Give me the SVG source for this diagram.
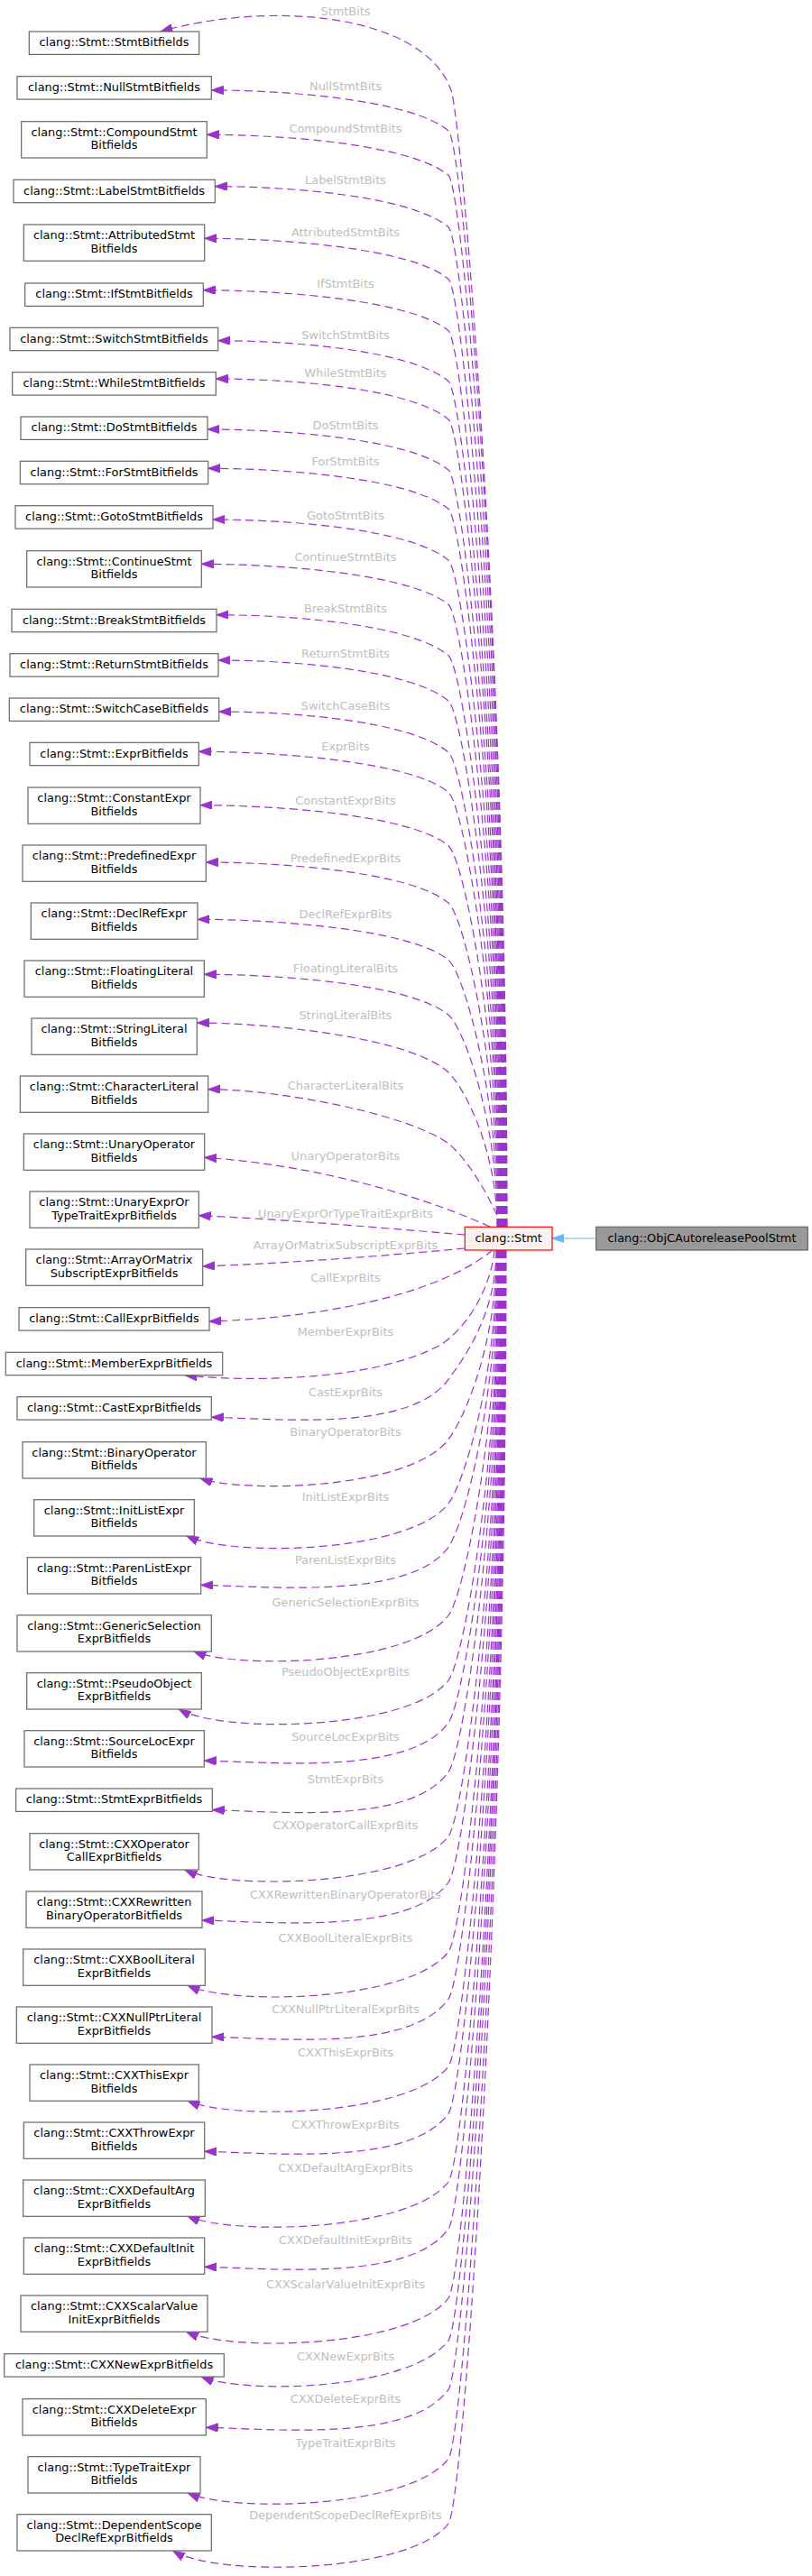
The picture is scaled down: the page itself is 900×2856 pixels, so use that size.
<svg xmlns="http://www.w3.org/2000/svg" width="900" height="2856" viewBox="0 0 900 2856">
<style>
.node rect{fill:#ffffff;stroke:#666666;stroke-width:1.2}
.t{font-family:"DejaVu Sans","Liberation Sans",sans-serif;font-size:12.9px;text-anchor:middle;fill:#000000}
.lbl{font-family:"DejaVu Sans","Liberation Sans",sans-serif;font-size:12.9px;text-anchor:middle;fill:#bebebe}
.e{fill:none;stroke:#9a32cd;stroke-width:1.2;stroke-dasharray:9,5}
</style>
<defs>
<marker id="ah" markerWidth="14" markerHeight="10" refX="13.3" refY="4.65" orient="auto" markerUnits="userSpaceOnUse"><path d="M0,0 L13.3,4.65 L0,9.3 z" fill="#9a32cd" stroke="#9a32cd" stroke-width="1" stroke-dasharray="none"/></marker>
<marker id="ahb" markerWidth="14" markerHeight="10" refX="13.3" refY="4.65" orient="auto" markerUnits="userSpaceOnUse"><path d="M0,0 L13.3,4.65 L0,9.3 z" fill="#63b8ff" stroke="#63b8ff" stroke-width="1"/></marker>
</defs>
<rect width="900" height="2856" fill="#ffffff"/>
<g id="edges">
<path class="e" marker-end="url(#ah)" d="M562,1360 C562,730 512,134 500,100 C470,15 300,0 178,35"/>
<path class="e" marker-end="url(#ah)" d="M561.5,1360 C561.5,752.5 514,159 497,145 C455,110 314.3,100 234.3,100"/>
<path class="e" marker-end="url(#ah)" d="M560.9,1360 C560.9,777.2 514,208.3 497,194.3 C455,159.3 309.3,149.3 229.3,149.3"/>
<path class="e" marker-end="url(#ah)" d="M560.4,1360 C560.4,805.9 514,265.7 497,251.7 C455,216.7 318.3,206.7 238.3,206.7"/>
<path class="e" marker-end="url(#ah)" d="M559.8,1360 C559.8,834.7 514,323.3 497,309.3 C455,274.3 306.7,264.3 226.7,264.3"/>
<path class="e" marker-end="url(#ah)" d="M559.3,1360 C559.3,863.4 514,380.7 497,366.7 C455,331.7 305.3,321.7 225.3,321.7"/>
<path class="e" marker-end="url(#ah)" d="M558.7,1360 C558.7,891.4 514,436.7 497,422.7 C455,387.7 321.7,377.7 241.7,377.7"/>
<path class="e" marker-end="url(#ah)" d="M558.2,1360 C558.2,912.5 514,479 497,465 C455,430 319.3,420 239.3,420"/>
<path class="e" marker-end="url(#ah)" d="M557.6,1360 C557.6,940.5 514,535 497,521 C455,486 310,476 230,476"/>
<path class="e" marker-end="url(#ah)" d="M557.1,1360 C557.1,962.2 514,578.3 497,564.3 C455,529.3 310.7,519.3 230.7,519.3"/>
<path class="e" marker-end="url(#ah)" d="M556.5,1360 C556.5,990.5 514,635 497,621 C455,586 316,576 236,576"/>
<path class="e" marker-end="url(#ah)" d="M556,1360 C556,1015.2 514,684.3 497,670.3 C455,635.3 303.3,625.3 223.3,625.3"/>
<path class="e" marker-end="url(#ah)" d="M555.4,1360 C555.4,1043.4 514,740.7 497,726.7 C455,691.7 320,681.7 240,681.7"/>
<path class="e" marker-end="url(#ah)" d="M554.9,1360 C554.9,1068.5 514,791 497,777 C455,742 322,732 242,732"/>
<path class="e" marker-end="url(#ah)" d="M554.3,1360 C554.3,1097 514,848 497,834 C455,799 322.7,789 242.7,789"/>
<path class="e" marker-end="url(#ah)" d="M553.8,1360 C553.8,1119.2 514,892.3 497,878.3 C455,843.3 300.3,833.3 220.3,833.3"/>
<path class="e" marker-end="url(#ah)" d="M553.2,1360 C553.2,1148.9 514,951.7 497,937.7 C455,902.7 302,892.7 222,892.7"/>
<path class="e" marker-end="url(#ah)" d="M552.7,1360 C552.7,1180.5 514,1015 497,1001 C455,966 308.3,956 228.3,956"/>
<path class="e" marker-end="url(#ah)" d="M552.1,1360 C552.1,1212.2 514,1078.3 497,1064.3 C455,1029.3 299,1019.3 219,1019.3"/>
<path class="e" marker-end="url(#ah)" d="M551.6,1360 C551.6,1242.7 514,1139.3 497,1125.3 C455,1090.3 306.3,1080.3 226.3,1080.3"/>
<path class="e" marker-end="url(#ah)" d="M551,1360 C551,1274 514,1205 497,1189 C455,1150 298.3,1134 218.3,1134"/>
<path class="e" marker-end="url(#ah)" d="M556,1360 C545,1330 518,1284 497,1268 C455,1236 310.7,1207.7 230.7,1207.7"/>
<path class="e" marker-end="url(#ah)" d="M543,1360 C450,1318 330,1290 226.7,1283.3"/>
<path class="e" marker-end="url(#ah)" d="M515,1369 C430,1362 320,1352 220.3,1347.7"/>
<path class="e" marker-end="url(#ah)" d="M515,1384 C430,1392 330,1400 224.7,1404"/>
<path class="e" marker-end="url(#ah)" d="M546,1386 C480,1440 340,1462 232,1465"/>
<path class="e" marker-end="url(#ah)" d="M548,1386 C545,1420 525,1465 490,1490 C420,1530 280,1533 205,1524.7"/>
<path class="e" marker-end="url(#ah)" d="M550,1386 C550,1457.7 514,1506.1 497,1529.3 C455,1587.3 314.3,1573.3 234.3,1571.3"/>
<path class="e" marker-end="url(#ah)" d="M550.5,1386 C550.5,1491 514,1574 497,1596 C455,1651 272,1656 222,1639"/>
<path class="e" marker-end="url(#ah)" d="M551,1386 C551,1526.5 514,1645 497,1667 C455,1722 256.7,1727 206.7,1702.7"/>
<path class="e" marker-end="url(#ah)" d="M551.6,1386 C551.6,1550.7 514,1692.1 497,1715.3 C455,1773.3 302.7,1759.3 222.7,1757.3"/>
<path class="e" marker-end="url(#ah)" d="M552.1,1386 C552.1,1588.5 514,1769 497,1791 C455,1846 265,1851 215,1831"/>
<path class="e" marker-end="url(#ah)" d="M552.7,1386 C552.7,1624.5 514,1841 497,1863 C455,1918 248.3,1923 198.3,1895"/>
<path class="e" marker-end="url(#ah)" d="M553.2,1386 C553.2,1648 514,1886.8 497,1910 C455,1968 306.3,1954 226.3,1952"/>
<path class="e" marker-end="url(#ah)" d="M553.8,1386 C553.8,1675.4 514,1941.5 497,1964.7 C455,2022.7 315.3,2008.7 235.3,2006.7"/>
<path class="e" marker-end="url(#ah)" d="M554.3,1386 C554.3,1711 514,2014 497,2036 C455,2091 255,2096 205,2073.3"/>
<path class="e" marker-end="url(#ah)" d="M554.9,1386 C554.9,1736.5 514,2063.8 497,2087 C455,2145 304,2131 224,2129"/>
<path class="e" marker-end="url(#ah)" d="M555.4,1386 C555.4,1775 514,2142 497,2164 C455,2219 258.3,2224 208.3,2201.3"/>
<path class="e" marker-end="url(#ah)" d="M556,1386 C556,1801.2 514,2193.1 497,2216.3 C455,2274.3 315,2260.3 235,2258.3"/>
<path class="e" marker-end="url(#ah)" d="M556.5,1386 C556.5,1838.5 514,2269 497,2291 C455,2346 258.3,2351 208.3,2329.3"/>
<path class="e" marker-end="url(#ah)" d="M557.1,1386 C557.1,1864.7 514,2320.1 497,2343.3 C455,2401.3 306.7,2387.3 226.7,2385.3"/>
<path class="e" marker-end="url(#ah)" d="M557.6,1386 C557.6,1902.5 514,2397 497,2419 C455,2474 258,2479 208,2457"/>
<path class="e" marker-end="url(#ah)" d="M558.2,1386 C558.2,1928.7 514,2448.1 497,2471.3 C455,2529.3 306.7,2515.3 226.7,2513.3"/>
<path class="e" marker-end="url(#ah)" d="M558.7,1386 C558.7,1967 514,2526 497,2548 C455,2603 256.7,2608 206.7,2585.3"/>
<path class="e" marker-end="url(#ah)" d="M559.3,1386 C559.3,1990.5 514,2573 497,2595 C455,2650 273.3,2655 223.3,2635.3"/>
<path class="e" marker-end="url(#ah)" d="M559.8,1386 C559.8,2017.7 514,2626.1 497,2649.3 C455,2707.3 308.3,2693.3 228.3,2691.3"/>
<path class="e" marker-end="url(#ah)" d="M560.4,1386 C560.4,2056 514,2704 497,2726 C455,2781 258.3,2786 208.3,2764"/>
<path class="e" marker-end="url(#ah)" d="M561,1386 C561,2092 514,2776 497,2798 C455,2853 241.7,2858 191.7,2828"/>
<path fill="none" stroke="#63b8ff" stroke-width="1.2" marker-end="url(#ahb)" d="M660.7,1373 L612,1373"/>
</g>
<g id="edge-labels">
<text class="lbl" x="383" y="17">StmtBits</text>
<text class="lbl" x="383" y="99.7">NullStmtBits</text>
<text class="lbl" x="383" y="147">CompoundStmtBits</text>
<text class="lbl" x="383" y="204.3">LabelStmtBits</text>
<text class="lbl" x="383" y="261.7">AttributedStmtBits</text>
<text class="lbl" x="383" y="319.3">IfStmtBits</text>
<text class="lbl" x="383" y="376.3">SwitchStmtBits</text>
<text class="lbl" x="383" y="418">WhileStmtBits</text>
<text class="lbl" x="383" y="475.6">DoStmtBits</text>
<text class="lbl" x="383" y="516.3">ForStmtBits</text>
<text class="lbl" x="383" y="575.7">GotoStmtBits</text>
<text class="lbl" x="383" y="621.7">ContinueStmtBits</text>
<text class="lbl" x="383" y="679.3">BreakStmtBits</text>
<text class="lbl" x="383" y="729.3">ReturnStmtBits</text>
<text class="lbl" x="383" y="787.3">SwitchCaseBits</text>
<text class="lbl" x="383" y="831.7">ExprBits</text>
<text class="lbl" x="383" y="891.7">ConstantExprBits</text>
<text class="lbl" x="383" y="955.7">PredefinedExprBits</text>
<text class="lbl" x="383" y="1017.7">DeclRefExprBits</text>
<text class="lbl" x="383" y="1077.7">FloatingLiteralBits</text>
<text class="lbl" x="383" y="1129.7">StringLiteralBits</text>
<text class="lbl" x="383" y="1207.7">CharacterLiteralBits</text>
<text class="lbl" x="383" y="1285.7">UnaryOperatorBits</text>
<text class="lbl" x="383" y="1349.7">UnaryExprOrTypeTraitExprBits</text>
<text class="lbl" x="383" y="1384.7">ArrayOrMatrixSubscriptExprBits</text>
<text class="lbl" x="383" y="1420.7">CallExprBits</text>
<text class="lbl" x="383" y="1480.7">MemberExprBits</text>
<text class="lbl" x="383" y="1547.7">CastExprBits</text>
<text class="lbl" x="383" y="1591.7">BinaryOperatorBits</text>
<text class="lbl" x="383" y="1663.7">InitListExprBits</text>
<text class="lbl" x="383" y="1733.7">ParenListExprBits</text>
<text class="lbl" x="383" y="1780.7">GenericSelectionExprBits</text>
<text class="lbl" x="383" y="1857.7">PseudoObjectExprBits</text>
<text class="lbl" x="383" y="1929.7">SourceLocExprBits</text>
<text class="lbl" x="383" y="1976.7">StmtExprBits</text>
<text class="lbl" x="383" y="2027.7">CXXOperatorCallExprBits</text>
<text class="lbl" x="383" y="2104.7">CXXRewrittenBinaryOperatorBits</text>
<text class="lbl" x="383" y="2152.7">CXXBoolLiteralExprBits</text>
<text class="lbl" x="383" y="2231.7">CXXNullPtrLiteralExprBits</text>
<text class="lbl" x="383" y="2279.7">CXXThisExprBits</text>
<text class="lbl" x="383" y="2359.7">CXXThrowExprBits</text>
<text class="lbl" x="383" y="2407.7">CXXDefaultArgExprBits</text>
<text class="lbl" x="383" y="2487.7">CXXDefaultInitExprBits</text>
<text class="lbl" x="383" y="2536.7">CXXScalarValueInitExprBits</text>
<text class="lbl" x="383" y="2616.7">CXXNewExprBits</text>
<text class="lbl" x="383" y="2663.7">CXXDeleteExprBits</text>
<text class="lbl" x="383" y="2712.7">TypeTraitExprBits</text>
<text class="lbl" x="383" y="2792.7">DependentScopeDeclRefExprBits</text>
</g>
<g id="n1" class="node"><rect x="32.3" y="35" width="188.4" height="25.4"/><text class="t" x="126.5" y="51.3">clang::Stmt::StmtBitfields</text></g>
<g id="n2" class="node"><rect x="19" y="84.7" width="215.3" height="25.4"/><text class="t" x="126.5" y="101">clang::Stmt::NullStmtBitfields</text></g>
<g id="n3" class="node"><rect x="23.7" y="134.7" width="205.6" height="40.3"/><text class="t" x="126.5" y="150.7">clang::Stmt::CompoundStmt<tspan x="126.5" y="165.2">Bitfields</tspan></text></g>
<g id="n4" class="node"><rect x="15" y="199.3" width="223.3" height="25.4"/><text class="t" x="126.5" y="215.6">clang::Stmt::LabelStmtBitfields</text></g>
<g id="n5" class="node"><rect x="26.3" y="249" width="200.4" height="40.3"/><text class="t" x="126.5" y="265">clang::Stmt::AttributedStmt<tspan x="126.5" y="279.5">Bitfields</tspan></text></g>
<g id="n6" class="node"><rect x="27.7" y="314" width="197.6" height="25.4"/><text class="t" x="126.5" y="330.3">clang::Stmt::IfStmtBitfields</text></g>
<g id="n7" class="node"><rect x="11" y="363.3" width="230.7" height="25.4"/><text class="t" x="126.5" y="379.6">clang::Stmt::SwitchStmtBitfields</text></g>
<g id="n8" class="node"><rect x="13.7" y="412.7" width="225.6" height="25.4"/><text class="t" x="126.5" y="429">clang::Stmt::WhileStmtBitfields</text></g>
<g id="n9" class="node"><rect x="23" y="462" width="207" height="25.4"/><text class="t" x="126.5" y="478.3">clang::Stmt::DoStmtBitfields</text></g>
<g id="n10" class="node"><rect x="22.3" y="511.3" width="208.4" height="25.4"/><text class="t" x="126.5" y="527.6">clang::Stmt::ForStmtBitfields</text></g>
<g id="n11" class="node"><rect x="17" y="560.7" width="219" height="25.4"/><text class="t" x="126.5" y="577">clang::Stmt::GotoStmtBitfields</text></g>
<g id="n12" class="node"><rect x="29.7" y="610.7" width="193.6" height="40.3"/><text class="t" x="126.5" y="626.7">clang::Stmt::ContinueStmt<tspan x="126.5" y="641.2">Bitfields</tspan></text></g>
<g id="n13" class="node"><rect x="13" y="675.3" width="227" height="25.4"/><text class="t" x="126.5" y="691.6">clang::Stmt::BreakStmtBitfields</text></g>
<g id="n14" class="node"><rect x="11" y="724.7" width="231" height="25.4"/><text class="t" x="126.5" y="741">clang::Stmt::ReturnStmtBitfields</text></g>
<g id="n15" class="node"><rect x="10.3" y="774" width="232.4" height="25.4"/><text class="t" x="126.5" y="790.3">clang::Stmt::SwitchCaseBitfields</text></g>
<g id="n16" class="node"><rect x="33" y="823.3" width="187.3" height="25.4"/><text class="t" x="126.5" y="839.6">clang::Stmt::ExprBitfields</text></g>
<g id="n17" class="node"><rect x="31" y="873" width="191" height="40.3"/><text class="t" x="126.5" y="889">clang::Stmt::ConstantExpr<tspan x="126.5" y="903.5">Bitfields</tspan></text></g>
<g id="n18" class="node"><rect x="25" y="937" width="203.3" height="40.3"/><text class="t" x="126.5" y="953">clang::Stmt::PredefinedExpr<tspan x="126.5" y="967.5">Bitfields</tspan></text></g>
<g id="n19" class="node"><rect x="34.3" y="1001" width="184.7" height="40.3"/><text class="t" x="126.5" y="1017">clang::Stmt::DeclRefExpr<tspan x="126.5" y="1031.5">Bitfields</tspan></text></g>
<g id="n20" class="node"><rect x="27" y="1065" width="199.3" height="40.3"/><text class="t" x="126.5" y="1081">clang::Stmt::FloatingLiteral<tspan x="126.5" y="1095.5">Bitfields</tspan></text></g>
<g id="n21" class="node"><rect x="35" y="1129" width="183.3" height="40.3"/><text class="t" x="126.5" y="1145">clang::Stmt::StringLiteral<tspan x="126.5" y="1159.5">Bitfields</tspan></text></g>
<g id="n22" class="node"><rect x="22.3" y="1193" width="208.4" height="40.3"/><text class="t" x="126.5" y="1209">clang::Stmt::CharacterLiteral<tspan x="126.5" y="1223.5">Bitfields</tspan></text></g>
<g id="n23" class="node"><rect x="26.3" y="1257" width="200.4" height="40.3"/><text class="t" x="126.5" y="1273">clang::Stmt::UnaryOperator<tspan x="126.5" y="1287.5">Bitfields</tspan></text></g>
<g id="n24" class="node"><rect x="33" y="1321" width="187.3" height="40.3"/><text class="t" x="126.5" y="1337">clang::Stmt::UnaryExprOr<tspan x="126.5" y="1351.5">TypeTraitExprBitfields</tspan></text></g>
<g id="n25" class="node"><rect x="28.7" y="1385" width="196" height="40.3"/><text class="t" x="126.5" y="1401">clang::Stmt::ArrayOrMatrix<tspan x="126.5" y="1415.5">SubscriptExprBitfields</tspan></text></g>
<g id="n26" class="node"><rect x="21" y="1449.7" width="211" height="25.4"/><text class="t" x="126.5" y="1466">clang::Stmt::CallExprBitfields</text></g>
<g id="n27" class="node"><rect x="6.3" y="1499.3" width="240.4" height="25.4"/><text class="t" x="126.5" y="1515.6">clang::Stmt::MemberExprBitfields</text></g>
<g id="n28" class="node"><rect x="19" y="1548.7" width="215.3" height="25.4"/><text class="t" x="126.5" y="1565">clang::Stmt::CastExprBitfields</text></g>
<g id="n29" class="node"><rect x="25" y="1598.7" width="203.3" height="40.3"/><text class="t" x="126.5" y="1614.7">clang::Stmt::BinaryOperator<tspan x="126.5" y="1629.2">Bitfields</tspan></text></g>
<g id="n30" class="node"><rect x="37.7" y="1662.7" width="177.6" height="40.3"/><text class="t" x="126.5" y="1678.7">clang::Stmt::InitListExpr<tspan x="126.5" y="1693.2">Bitfields</tspan></text></g>
<g id="n31" class="node"><rect x="30.3" y="1726.7" width="192.4" height="40.3"/><text class="t" x="126.5" y="1742.7">clang::Stmt::ParenListExpr<tspan x="126.5" y="1757.2">Bitfields</tspan></text></g>
<g id="n32" class="node"><rect x="19" y="1790.7" width="215.3" height="40.3"/><text class="t" x="126.5" y="1806.7">clang::Stmt::GenericSelection<tspan x="126.5" y="1821.2">ExprBitfields</tspan></text></g>
<g id="n33" class="node"><rect x="29.7" y="1854.7" width="193.6" height="40.3"/><text class="t" x="126.5" y="1870.7">clang::Stmt::PseudoObject<tspan x="126.5" y="1885.2">ExprBitfields</tspan></text></g>
<g id="n34" class="node"><rect x="27" y="1918.7" width="199.3" height="40.3"/><text class="t" x="126.5" y="1934.7">clang::Stmt::SourceLocExpr<tspan x="126.5" y="1949.2">Bitfields</tspan></text></g>
<g id="n35" class="node"><rect x="17.7" y="1983" width="217.6" height="25.4"/><text class="t" x="126.5" y="1999.3">clang::Stmt::StmtExprBitfields</text></g>
<g id="n36" class="node"><rect x="33" y="2032.7" width="187.3" height="40.3"/><text class="t" x="126.5" y="2048.7">clang::Stmt::CXXOperator<tspan x="126.5" y="2063.2">CallExprBitfields</tspan></text></g>
<g id="n37" class="node"><rect x="29" y="2097" width="195" height="40.3"/><text class="t" x="126.5" y="2113">clang::Stmt::CXXRewritten<tspan x="126.5" y="2127.5">BinaryOperatorBitfields</tspan></text></g>
<g id="n38" class="node"><rect x="25.7" y="2161" width="201.6" height="40.3"/><text class="t" x="126.5" y="2177">clang::Stmt::CXXBoolLiteral<tspan x="126.5" y="2191.5">ExprBitfields</tspan></text></g>
<g id="n39" class="node"><rect x="18.3" y="2225" width="216.7" height="40.3"/><text class="t" x="126.5" y="2241">clang::Stmt::CXXNullPtrLiteral<tspan x="126.5" y="2255.5">ExprBitfields</tspan></text></g>
<g id="n40" class="node"><rect x="33" y="2289" width="187.3" height="40.3"/><text class="t" x="126.5" y="2305">clang::Stmt::CXXThisExpr<tspan x="126.5" y="2319.5">Bitfields</tspan></text></g>
<g id="n41" class="node"><rect x="26.3" y="2353" width="200.4" height="40.3"/><text class="t" x="126.5" y="2369">clang::Stmt::CXXThrowExpr<tspan x="126.5" y="2383.5">Bitfields</tspan></text></g>
<g id="n42" class="node"><rect x="25.7" y="2417" width="201.6" height="40.3"/><text class="t" x="126.5" y="2433">clang::Stmt::CXXDefaultArg<tspan x="126.5" y="2447.5">ExprBitfields</tspan></text></g>
<g id="n43" class="node"><rect x="26.3" y="2481" width="200.4" height="40.3"/><text class="t" x="126.5" y="2497">clang::Stmt::CXXDefaultInit<tspan x="126.5" y="2511.5">ExprBitfields</tspan></text></g>
<g id="n44" class="node"><rect x="23" y="2545" width="207" height="40.3"/><text class="t" x="126.5" y="2561">clang::Stmt::CXXScalarValue<tspan x="126.5" y="2575.5">InitExprBitfields</tspan></text></g>
<g id="n45" class="node"><rect x="4.7" y="2609.7" width="243.6" height="25.4"/><text class="t" x="126.5" y="2626">clang::Stmt::CXXNewExprBitfields</text></g>
<g id="n46" class="node"><rect x="25" y="2659.7" width="203.3" height="40.3"/><text class="t" x="126.5" y="2675.7">clang::Stmt::CXXDeleteExpr<tspan x="126.5" y="2690.2">Bitfields</tspan></text></g>
<g id="n47" class="node"><rect x="31" y="2723.7" width="191" height="40.3"/><text class="t" x="126.5" y="2739.7">clang::Stmt::TypeTraitExpr<tspan x="126.5" y="2754.2">Bitfields</tspan></text></g>
<g id="n48" class="node"><rect x="19" y="2787.7" width="215.3" height="40.3"/><text class="t" x="126.5" y="2803.7">clang::Stmt::DependentScope<tspan x="126.5" y="2818.2">DeclRefExprBitfields</tspan></text></g>
<g id="stmt" class="node"><rect x="515.3" y="1360.3" width="96.7" height="25.7" style="fill:#fff0f0;stroke:#ff0000"/><text class="t" x="563.7" y="1377">clang::Stmt</text></g>
<g id="objc" class="node"><rect x="660.7" y="1360.3" width="234.6" height="25.7" style="fill:#999999;stroke:#666666"/><text class="t" x="778" y="1377">clang::ObjCAutoreleasePoolStmt</text></g>
</svg>
